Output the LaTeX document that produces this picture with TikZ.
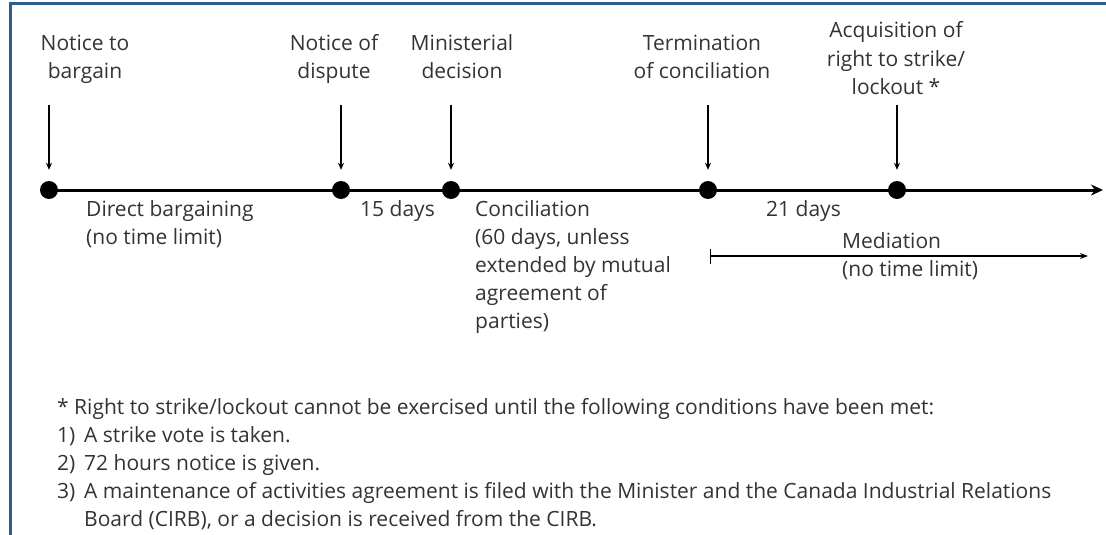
\documentclass[tikz,border=0pt]{standalone}
\usepackage{fontspec}
\setmainfont{Open Sans}
\usetikzlibrary{arrows.meta}

\definecolor{framblue}{HTML}{2E5E8E}
\definecolor{textgray}{HTML}{333333}

\tikzset{
  event/.style={circle, fill=black, inner sep=0pt, minimum size=18pt},
  toplabel/.style={anchor=base, align=center, inner sep=0pt, text=textgray},
  spanlabel/.style={anchor=base west, align=left, inner sep=0pt, text=textgray},
  pointer/.style={-{Stealth[length=7pt,width=6pt]}, line width=1.3pt, shorten >=11pt},
}

\begin{document}
\begin{tikzpicture}[x=1pt, y=-1pt, font=\fontsize{21}{28}\selectfont]
  \useasboundingbox (0,0) rectangle (1106,535);

  % The frame
  \draw[framblue, line width=3pt] (10,535) -- (10,4) -- (1106,4);

  % The events
  \node[event] (e1) at (49,190) {};
  \node[event] (e2) at (341,190) {};
  \node[event] (e3) at (451,190) {};
  \node[event] (e4) at (708,190) {};
  \node[event] (e5) at (897,190) {};
  \coordinate (tend) at (1103,190);

  % The time line
  \draw[line width=3pt, -{Stealth[length=12pt,width=11pt]}] (e1.center) -- (tend);

  % Event labels (base = last line)
  \node[toplabel] (l1) at (85,78) {Notice to\\bargain};
  \node[toplabel] (l2) at (334,78) {Notice of\\dispute};
  \node[toplabel] (l3) at (462,78) {Ministerial\\decision};
  \node[toplabel] (l4) at (702,78) {Termination\\of conciliation};
  \node[toplabel] (l5) at (896,94) {Acquisition of\\right to strike/\\lockout *};

  % Pointers
  \coordinate (p1) at (49,105);
  \coordinate (p2) at (341,105);
  \coordinate (p3) at (451,105);
  \coordinate (p4) at (708,105);
  \coordinate (p5) at (897,105);
  \draw[pointer] (p1) -- (e1);
  \draw[pointer] (p2) -- (e2);
  \draw[pointer] (p3) -- (e3);
  \draw[pointer] (p4) -- (e4);
  \draw[pointer] (p5) -- (e5);

  % Periods
  \node[spanlabel] (s1) at (86,244) {Direct bargaining\\(no time limit)};
  \node[spanlabel] (s2) at (360,216) {15 days};
  \node[spanlabel] (s3) at (475,328) {Conciliation\\(60 days, unless\\extended by mutual\\agreement of\\parties)};
  \node[spanlabel] (s4) at (766,216) {21 days};
  \node[spanlabel] (s5) at (842,276) {Mediation\\(no time limit)};

  % Mediation
  \coordinate (m1) at (710,256);
  \coordinate (m2) at (1088,256);
  \draw[line width=1.3pt, {Bar[width=15pt]}-{Stealth[length=8pt,width=6pt]}] (m1) -- (m2);

  % Footnote
  \node[spanlabel] (f0) at (57,414) {* Right to strike/lockout cannot be exercised until the following conditions have been met:};
  \node[spanlabel] (f1) at (57,442) {1)};
  \node[spanlabel] (f2) at (57,470) {2)};
  \node[spanlabel] (f3) at (57,498) {3)};
  \node[spanlabel] (t1) at (84,442) {A strike vote is taken.};
  \node[spanlabel] (t2) at (84,470) {72 hours notice is given.};
  \node[spanlabel] (t3) at (84,526) {A maintenance of activities agreement is filed with the Minister and the Canada Industrial Relations\\Board (CIRB), or a decision is received from the CIRB.};
\end{tikzpicture}
\end{document}
